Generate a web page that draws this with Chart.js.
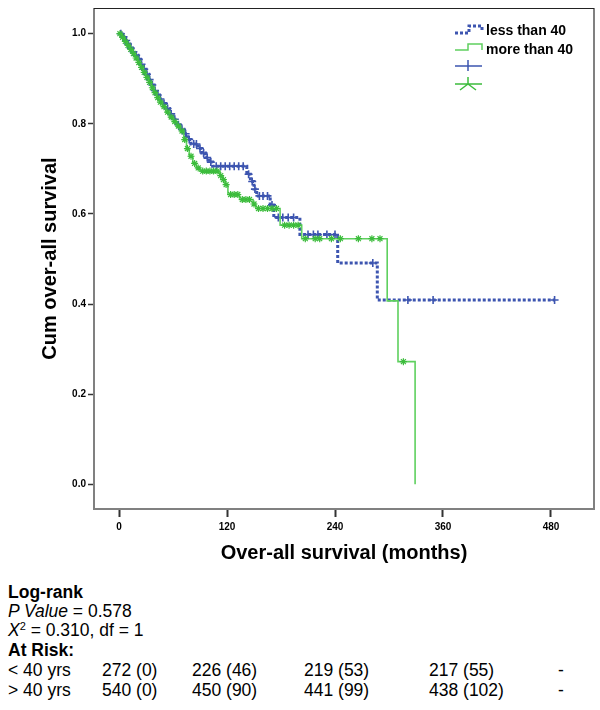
<!DOCTYPE html>
<html><head><meta charset="utf-8">
<script src="https://cdn.jsdelivr.net/npm/chart.js@4/dist/chart.umd.min.js"></script>
<style>
html,body{margin:0;padding:0;background:#fff;}
#wrap{position:relative;width:600px;height:710px;overflow:hidden;background:#fff;}
#c{position:absolute;left:0;top:0;}
.t{position:absolute;font-family:"Liberation Sans",Arial,sans-serif;font-size:17.5px;line-height:20px;color:#000;white-space:nowrap;}
.b{font-weight:bold;}
.sup{font-size:11px;position:relative;top:-6px;}
</style></head><body>
<div id="wrap">
<canvas id="c" width="600" height="575"></canvas>
<div class="t b" style="left:8px;top:582px">Log-rank</div>
<div class="t" style="left:8px;top:601px"><i>P Value</i> = 0.578</div>
<div class="t" style="left:8px;top:620px"><i>X</i><span class="sup">2</span> = 0.310, df = 1</div>
<div class="t b" style="left:8px;top:640px">At Risk:</div>
<div id="risk"></div>
</div>
<script>
// ---- data ----
const seriesNames = ['less than 40', 'more than 40'];
const xTicks = [0, 120, 240, 360, 480];
const yTicks = [0.0, 0.2, 0.4, 0.6, 0.8, 1.0];

// group "less than 40": step times (months) and survival after the step
const blueTime = [0,3,6,9,12,15,18,21,24,27,30,33,36,39,42,45,48,52,56,60,64,68,72,76,80,88,92,96,100,104,142,146,150,153,168,172,201,243,287,484];
const blueSurv = [1.000,.993,.985,.977,.968,.960,.952,.943,.932,.921,.910,.898,.886,.874,.864,.855,.845,.834,.822,.810,.798,.788,.778,.765,.755,.745,.735,.725,.715,.706,.688,.672,.655,.640,.620,.592,.554,.491,.409,.409];
// censored cases "less than 40"
const blueCensT = [2,5,8,10,13,16,19,22,25,28,31,34,37,40,43,46,50,54,58,62,66,70,74,78,83,86,90,94,98,102,108,113,118,123,128,133,138,144,148,151,156,160,165,170,177,182,188,194,210,216,221,231,240,282,321,349,484];
const blueCensS = [1.000,.993,.985,.977,.968,.960,.952,.943,.932,.921,.910,.898,.886,.874,.864,.855,.845,.834,.822,.810,.798,.788,.778,.765,.755,.755,.745,.735,.725,.715,.706,.706,.706,.706,.706,.706,.706,.688,.672,.655,.640,.640,.640,.620,.592,.592,.592,.592,.554,.554,.554,.554,.554,.491,.409,.409,.409];

// group "more than 40"
const greenTime = [0,3,6,9,12,15,18,21,24,27,30,33,36,39,42,45,48,52,56,60,64,68,72,75,78,82,86,90,112,115,118,121,134,149,152,179,203,298,310,329];
const greenSurv = [1.000,.992,.983,.974,.965,.956,.946,.936,.925,.914,.903,.892,.880,.869,.858,.848,.838,.826,.815,.805,.795,.784,.765,.745,.728,.712,.702,.695,.685,.676,.665,.643,.632,.622,.612,.575,.545,.407,.272,0];
const greenCensT = [1,4,7,10,13,16,19,22,25,28,31,34,37,40,43,46,50,54,58,62,66,70,73,76,80,84,88,93,97,101,105,109,113,116,119,124,128,132,137,141,145,150,155,160,165,170,175,184,189,194,199,207,218,223,236,246,266,281,290,316];
const greenCensS = [1.000,.992,.983,.974,.965,.956,.946,.936,.925,.914,.903,.892,.880,.869,.858,.848,.838,.826,.815,.805,.795,.784,.765,.745,.728,.712,.702,.695,.695,.695,.695,.695,.685,.676,.665,.643,.643,.643,.632,.632,.632,.622,.612,.612,.612,.612,.612,.575,.575,.575,.575,.545,.545,.545,.545,.545,.545,.545,.545,.272];

// numbers at risk
const riskGroups = ['< 40 yrs', '> 40 yrs'];
const riskLess = ['272 (0)', '226 (46)', '219 (53)', '217 (55)', '-'];
const riskMore = ['540 (0)', '450 (90)', '441 (99)', '438 (102)', '-'];

// ---- risk table (HTML text) ----
(function(){
  const cols = [8, 102, 192, 304, 429, 558];
  const tops = [660, 680];
  const rows = [riskLess, riskMore];
  const host = document.getElementById('risk');
  rows.forEach((r, i) => {
    [riskGroups[i]].concat(r).forEach((txt, j) => {
      const d = document.createElement('div');
      d.className = 't';
      d.style.left = cols[j] + 'px';
      d.style.top = tops[i] + 'px';
      d.textContent = txt;
      host.appendChild(d);
    });
  });
})();

const BLUE = '#3d55b0';
const GREEN_LINE = '#5fd05f';
const GREEN = '#3cbc3c';
const FONT = '"Liberation Sans", Arial, sans-serif';

const pts = (xs, ys) => xs.map((x, i) => ({x: x, y: ys[i]}));

const framePlugin = {
  id: 'frame',
  beforeDatasetsDraw(chart) {
    const {ctx, chartArea: a} = chart;
    ctx.save();
    ctx.strokeStyle = '#808080';
    ctx.lineWidth = 2;
    ctx.beginPath();
    ctx.moveTo(a.left, a.top);
    ctx.lineTo(a.left, a.bottom);
    ctx.lineTo(a.right, a.bottom);
    ctx.lineTo(a.right, a.top);
    ctx.stroke();
    ctx.strokeStyle = '#222';
    ctx.lineWidth = 1;
    ctx.beginPath();
    ctx.moveTo(a.left, a.top + 0.5);
    ctx.lineTo(a.right, a.top + 0.5);
    ctx.stroke();
    ctx.restore();
  }
};

const legendPlugin = {
  id: 'kmLegend',
  afterDraw(chart) {
    const {ctx, chartArea: a} = chart;
    const x0 = a.right - 139, x1 = x0 + 13, x2 = x0 + 27, tx = x0 + 31;
    ctx.save();
    // item 1: dotted step, blue
    ctx.strokeStyle = BLUE; ctx.lineWidth = 3; ctx.setLineDash([3, 2]);
    ctx.beginPath();
    ctx.moveTo(x0, a.top + 25); ctx.lineTo(x1 + 1, a.top + 25); ctx.lineTo(x1 + 1, a.top + 18);
    ctx.lineTo(x2, a.top + 18); ctx.lineTo(x2, a.top + 23);
    ctx.stroke();
    ctx.setLineDash([]);
    // item 2: solid step, green
    ctx.strokeStyle = GREEN_LINE; ctx.lineWidth = 1.5;
    ctx.beginPath();
    ctx.moveTo(x0, a.top + 42); ctx.lineTo(x1, a.top + 42); ctx.lineTo(x1, a.top + 36);
    ctx.lineTo(x2, a.top + 36); ctx.lineTo(x2, a.top + 42);
    ctx.stroke();
    // item 3: blue cross
    ctx.strokeStyle = BLUE; ctx.lineWidth = 1.5;
    ctx.beginPath();
    ctx.moveTo(x0, a.top + 58); ctx.lineTo(x2, a.top + 58);
    ctx.moveTo(x1, a.top + 52); ctx.lineTo(x1, a.top + 63);
    ctx.stroke();
    // item 4: green star
    ctx.strokeStyle = GREEN; ctx.lineWidth = 1.5;
    const cy = a.top + 76;
    ctx.beginPath();
    ctx.moveTo(x0, cy); ctx.lineTo(x2, cy);
    ctx.moveTo(x1, cy); ctx.lineTo(x1, cy - 7);
    ctx.moveTo(x1, cy); ctx.lineTo(x1 - 8, cy + 6);
    ctx.moveTo(x1, cy); ctx.lineTo(x1 + 8, cy + 6);
    ctx.stroke();
    // labels
    ctx.fillStyle = '#000';
    ctx.font = 'bold 14px ' + FONT;
    ctx.textBaseline = 'middle';
    ctx.fillText(seriesNames[0], tx, a.top + 23);
    ctx.fillText(seriesNames[1], tx, a.top + 42);
    ctx.restore();
  }
};

new Chart(document.getElementById('c'), {
  type: 'line',
  data: {
    datasets: [
      {label: seriesNames[1] + ' censored', data: pts(greenCensT, greenCensS), showLine: false,
       pointStyle: 'star', pointRadius: 3.5, pointBorderColor: GREEN, pointBorderWidth: 1.2,
       pointBackgroundColor: GREEN, order: 0},
      {label: seriesNames[1], data: pts(greenTime, greenSurv), stepped: 'before',
       borderColor: GREEN_LINE, borderWidth: 1.6, pointRadius: 0, fill: false, order: 1},
      {label: seriesNames[0] + ' censored', data: pts(blueCensT, blueCensS), showLine: false,
       pointStyle: 'cross', pointRadius: 4, pointBorderColor: BLUE, pointBorderWidth: 1.6,
       pointBackgroundColor: BLUE, order: 2},
      {label: seriesNames[0], data: pts(blueTime, blueSurv), stepped: 'before',
       borderColor: BLUE, borderWidth: 3, borderDash: [3, 2], pointRadius: 0, fill: false, order: 3}
    ]
  },
  options: {
    responsive: false,
    animation: false,
    devicePixelRatio: 1,
    layout: {padding: {top: 4, right: 6, left: 0, bottom: 0}},
    plugins: {legend: {display: false}, tooltip: {enabled: false}},
    scales: {
      x: {
        type: 'linear', min: -27.8, max: 527.8,
        afterBuildTicks: s => { s.ticks = xTicks.map(v => ({value: v})); },
        afterFit: s => { s.height = 66; },
        ticks: {autoSkip: false, maxRotation: 0, padding: 4, color: '#000',
                font: {family: FONT, size: 10, weight: 'bold'}, callback: v => String(v)},
        grid: {drawOnChartArea: false, drawTicks: true, tickLength: 8, tickColor: '#333', tickWidth: 2},
        border: {display: false},
        title: {display: true, text: 'Over-all survival (months)', color: '#000',
                font: {family: FONT, size: 20, weight: 'bold'}, padding: {top: 0, bottom: 10}}
      },
      y: {
        type: 'linear', min: -0.055, max: 1.057,
        afterBuildTicks: s => { s.ticks = yTicks.map(v => ({value: v})); },
        afterFit: s => { s.width = 94; },
        ticks: {padding: 2, color: '#000', font: {family: FONT, size: 10, weight: 'bold'},
                callback: v => Number(v).toFixed(1)},
        grid: {drawOnChartArea: false, drawTicks: true, tickLength: 6, tickColor: '#333', tickWidth: 1.5},
        border: {display: false},
        title: {display: true, text: 'Cum over-all survival', color: '#000',
                font: {family: FONT, size: 20, weight: 'bold'}, padding: {top: 38, bottom: 0}}
      }
    }
  },
  plugins: [framePlugin, legendPlugin]
});
</script>
</body></html>
